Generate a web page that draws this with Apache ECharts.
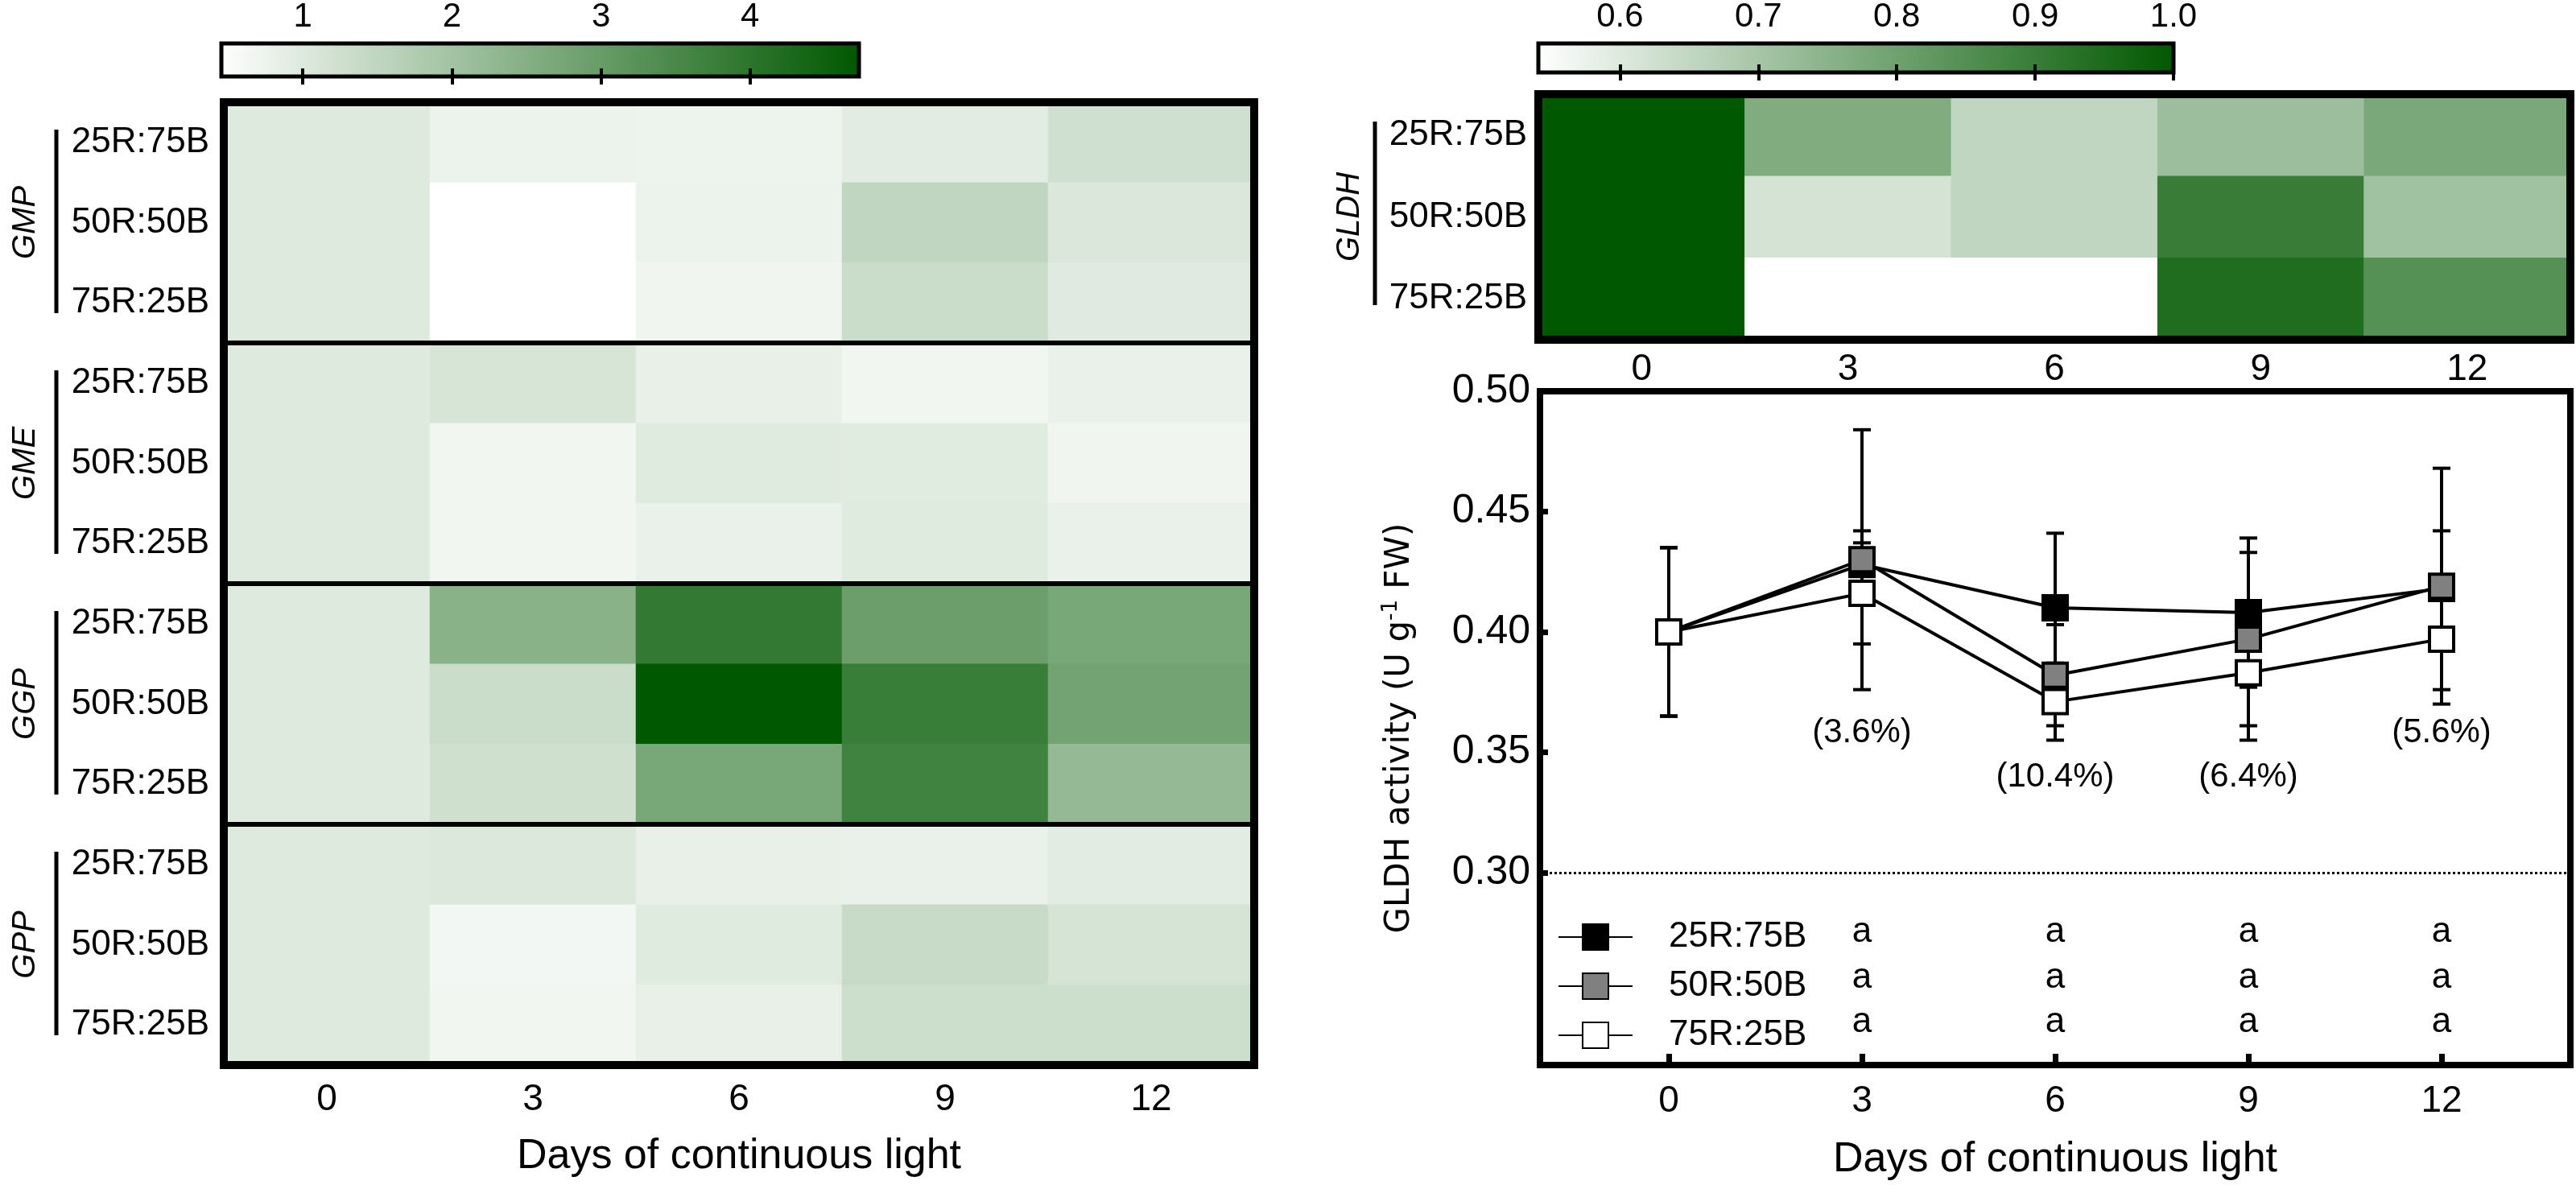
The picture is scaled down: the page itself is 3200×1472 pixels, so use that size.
<!DOCTYPE html>
<html lang="en">
<head>
<meta charset="UTF-8" />
<title>GMP / GME / GGP / GPP and GLDH under continuous light</title>
<script src="https://cdn.jsdelivr.net/npm/echarts@6/dist/echarts.min.js"></script>
<style>
  html, body { margin: 0; padding: 0; background: #fff; }
  #chart { width: 3200px; height: 1472px; }
</style>
</head>
<body>
<div id="chart"></div>
<script>
// ---- data ----
const days = ['0', '3', '6', '9', '12'];
const dayValues = [0, 3, 6, 9, 12];
const treatments = ['25R:75B', '50R:50B', '75R:25B'];
const genes = ['GMP', 'GME', 'GGP', 'GPP'];

// relative expression, rows = treatments, cols = days
const gmp = [[1.00, 0.77, 0.76, 0.94, 1.24], [1.00, 0.45, 0.78, 1.51, 1.07], [1.00, 0.45, 0.70, 1.34, 0.98]];
const gme = [[1.00, 1.12, 0.84, 0.69, 0.80], [1.00, 0.69, 0.97, 0.95, 0.70], [1.00, 0.69, 0.80, 0.97, 0.80]];
const ggp = [[1.00, 2.43, 3.88, 2.93, 2.72], [1.00, 1.34, 4.73, 3.79, 2.80], [1.00, 1.26, 2.72, 3.66, 2.25]];
const gpp = [[1.00, 1.04, 0.84, 0.80, 0.94], [1.00, 0.65, 0.97, 1.37, 1.14], [1.00, 0.69, 0.84, 1.31, 1.31]];
const gldhExpr = [[1.00, 0.77, 0.654, 0.72, 0.78], [1.00, 0.619, 0.654, 0.90, 0.71], [1.00, 0.541, 0.541, 0.943, 0.847]];

const leftRange = [0.454, 4.73];
const leftTicks = [1, 2, 3, 4];
const rightRange = [0.541, 1.0];
const rightTicks = [0.6, 0.7, 0.8, 0.9, 1.0];

// GLDH activity (U g-1 FW), mean and SD
const act25 = [0.400, 0.428, 0.410, 0.408, 0.418];
const sd25 = [0.035, 0.014, 0.031, 0.031, 0.024];
const act50 = [0.400, 0.430, 0.382, 0.397, 0.419];
const sd50 = [0.035, 0.054, 0.021, 0.036, 0.049];
const act75 = [0.400, 0.416, 0.371, 0.383, 0.397];
const sd75 = [0.035, 0.021, 0.016, 0.028, 0.021];

const pctDays = [3, 6, 9, 12];
const pctText = ['(3.6%)', '(10.4%)', '(6.4%)', '(5.6%)'];
const pctLevel = [0.358, 0.3397, 0.3397, 0.358];
const letterDays = [3, 6, 9, 12];
const letters = [['a', 'a', 'a', 'a'], ['a', 'a', 'a', 'a'], ['a', 'a', 'a', 'a']];
const letterLevel = [0.2753, 0.2563, 0.2377];
const activityTicks = [0.30, 0.35, 0.40, 0.45, 0.50];

// ---- layout ----
const FONT = '"Liberation Sans", Arial, sans-serif';
const hm = { left: 278, top: 127, width: 1280, groupH: 299 };
const gl = { left: 1911, top: 117, width: 1282, height: 305 };
const ln = { left: 1913, top: 486, width: 1280, height: 837 };
const GREEN = '#005800';

const chart = echarts.init(document.getElementById('chart'));

const gradient = {
  type: 'linear', x: 0, y: 0, x2: 1, y2: 0,
  colorStops: [{ offset: 0, color: '#ffffff' }, { offset: 1, color: GREEN }]
};

function toCells(mat) {
  const out = [];
  mat.forEach((row, r) => row.forEach((v, c) => out.push([c, r, v])));
  return out;
}

const grids = [];
const xAxes = [];
const yAxes = [];
const series = [];
const geneData = [gmp, gme, ggp, gpp];

genes.forEach((g, i) => {
  grids.push({
    left: hm.left, top: hm.top + i * hm.groupH, width: hm.width, height: hm.groupH,
    show: true, borderColor: '#000', borderWidth: 6, backgroundColor: 'transparent', z: 10
  });
  const last = i === genes.length - 1;
  xAxes.push({
    type: 'category', gridIndex: i, data: days,
    axisLine: { show: false }, axisTick: { show: false },
    axisLabel: { show: last, fontSize: 46, color: '#000', margin: 20, fontFamily: FONT },
    name: last ? 'Days of continuous light' : '', nameLocation: 'middle', nameGap: 88,
    nameTextStyle: { fontSize: 52, color: '#000', fontFamily: FONT }
  });
  yAxes.push({
    type: 'category', gridIndex: i, data: treatments, inverse: true,
    axisLine: { show: false }, axisTick: { show: false },
    axisLabel: { fontSize: 44, color: '#000', margin: 18, fontFamily: FONT },
    name: g, nameLocation: 'middle', nameRotate: 90, nameGap: 226,
    nameTextStyle: { fontSize: 40, fontStyle: 'italic', color: '#000', fontFamily: FONT }
  });
  series.push({
    type: 'heatmap', xAxisIndex: i, yAxisIndex: i, data: toCells(geneData[i]),
    itemStyle: { borderWidth: 0 }, emphasis: { disabled: true }
  });
});

// GLDH expression heatmap (grid 4)
grids.push({
  left: gl.left, top: gl.top, width: gl.width, height: gl.height,
  show: true, borderColor: '#000', borderWidth: 10, backgroundColor: 'transparent', z: 10
});
xAxes.push({
  type: 'category', gridIndex: 4, data: days,
  axisLine: { show: false }, axisTick: { show: false },
  axisLabel: { fontSize: 46, color: '#000', margin: 14, fontFamily: FONT }
});
yAxes.push({
  type: 'category', gridIndex: 4, data: treatments, inverse: true,
  axisLine: { show: false }, axisTick: { show: false },
  axisLabel: { fontSize: 44, color: '#000', margin: 14, fontFamily: FONT },
  name: 'GLDH', nameLocation: 'middle', nameRotate: 90, nameGap: 214,
  nameTextStyle: { fontSize: 40, fontStyle: 'italic', color: '#000', fontFamily: FONT }
});
series.push({
  type: 'heatmap', xAxisIndex: 4, yAxisIndex: 4, data: toCells(gldhExpr),
  itemStyle: { borderWidth: 0 }, emphasis: { disabled: true }
});

// GLDH activity line chart (grid 5)
grids.push({
  left: ln.left, top: ln.top, width: ln.width, height: ln.height,
  show: true, borderColor: '#000', borderWidth: 8, backgroundColor: 'transparent', z: 0
});
xAxes.push({
  type: 'value', gridIndex: 5, min: -2, max: 14,
  axisLine: { show: false, onZero: false }, splitLine: { show: false },
  axisTick: { customValues: dayValues, inside: true, length: 14, lineStyle: { width: 7, color: '#000' } },
  axisLabel: { customValues: dayValues, fontSize: 46, color: '#000', margin: 22, fontFamily: FONT },
  name: 'Days of continuous light', nameLocation: 'middle', nameGap: 92,
  nameTextStyle: { fontSize: 52, color: '#000', fontFamily: FONT }
});
yAxes.push({
  type: 'value', gridIndex: 5, min: 0.22, max: 0.50,
  axisLine: { show: false, onZero: false }, splitLine: { show: false },
  axisTick: { customValues: activityTicks, inside: true, length: 10, lineStyle: { width: 7, color: '#000' } },
  axisLabel: {
    customValues: activityTicks, fontSize: 50, color: '#000', margin: 12, fontFamily: FONT,
    formatter: v => v.toFixed(2)
  },
  name: 'GLDH activity (U g{sup|-1} FW)', nameLocation: 'middle', nameRotate: 90, nameGap: 150,
  nameTextStyle: {
    fontSize: 42, color: '#000', fontFamily: '"DejaVu Sans", sans-serif',
    rich: { sup: { fontSize: 26, padding: [0, 0, 22, 0], fontFamily: '"DejaVu Sans", sans-serif', color: '#000' } }
  }
});

// colour bars (grids 6, 7)
function colorBar(gridIdx, left, top, width, range, ticks, fmt) {
  grids.push({
    left: left, top: top, width: width, height: 43,
    show: true, borderColor: '#000', borderWidth: 5, backgroundColor: gradient
  });
  xAxes.push({
    type: 'value', gridIndex: gridIdx, position: 'top', min: range[0], max: range[1], z: 5,
    axisLine: { show: false }, splitLine: { show: false },
    axisTick: { customValues: ticks, inside: true, length: 10, lineStyle: { width: 4, color: '#000' } },
    axisLabel: { customValues: ticks, fontSize: 42, color: '#000', margin: 12, fontFamily: FONT, formatter: fmt }
  });
  xAxes.push({
    type: 'value', gridIndex: gridIdx, position: 'bottom', min: range[0], max: range[1], z: 5,
    axisLine: { show: false }, splitLine: { show: false },
    axisTick: { customValues: ticks, inside: true, length: 10, lineStyle: { width: 4, color: '#000' } },
    axisLabel: { show: false }
  });
  yAxes.push({ type: 'value', gridIndex: gridIdx, show: false, min: 0, max: 1 });
}
colorBar(6, 275, 52, 792, leftRange, leftTicks, v => String(Math.round(v)));
colorBar(7, 1911, 47, 789, rightRange, rightTicks, v => v.toFixed(1));

// line chart series
const lnX = 5, lnY = 5;
const groupsAct = [
  { name: treatments[0], mean: act25, sd: sd25, fill: '#000000' },
  { name: treatments[1], mean: act50, sd: sd50, fill: '#808080' },
  { name: treatments[2], mean: act75, sd: sd75, fill: '#ffffff' }
];

groupsAct.forEach(g => {
  series.push({
    type: 'custom', xAxisIndex: lnX, yAxisIndex: lnY, z: 1, silent: true,
    data: dayValues.map((d, k) => [d, g.mean[k], g.sd[k]]),
    renderItem: (params, api) => {
      const x = api.value(0), m = api.value(1), s = api.value(2);
      const hi = api.coord([x, m + s]);
      const lo = api.coord([x, m - s]);
      const cw = 11;
      const st = { stroke: '#000', lineWidth: 4 };
      return {
        type: 'group',
        children: [
          { type: 'line', shape: { x1: hi[0], y1: hi[1], x2: lo[0], y2: lo[1] }, style: st },
          { type: 'line', shape: { x1: hi[0] - cw, y1: hi[1], x2: hi[0] + cw, y2: hi[1] }, style: st },
          { type: 'line', shape: { x1: lo[0] - cw, y1: lo[1], x2: lo[0] + cw, y2: lo[1] }, style: st }
        ]
      };
    }
  });
});

groupsAct.forEach((g, i) => {
  const s = {
    name: g.name, type: 'line', xAxisIndex: lnX, yAxisIndex: lnY, z: 3,
    data: dayValues.map((d, k) => [d, g.mean[k]]),
    symbol: 'rect', symbolSize: 30, showSymbol: true,
    lineStyle: { color: '#000', width: 4 },
    itemStyle: { color: g.fill, borderColor: '#000', borderWidth: 4 },
    emphasis: { disabled: true }
  };
  if (i === 0) {
    s.markLine = {
      silent: true, symbol: ['none', 'none'], label: { show: false },
      lineStyle: { type: 'dotted', color: '#000', width: 3 },
      data: [{ yAxis: 0.30 }]
    };
  }
  series.push(s);
});

// percentage labels
series.push({
  type: 'scatter', xAxisIndex: lnX, yAxisIndex: lnY, symbolSize: 0, silent: true,
  itemStyle: { opacity: 1 },
  data: pctDays.map((d, k) => [d, pctLevel[k], pctText[k]]),
  label: { show: true, position: 'inside', formatter: p => p.data[2], fontSize: 42, color: '#000',
    textBorderWidth: 0, opacity: 1, fontFamily: FONT }
});

// significance letters
letters.forEach((row, r) => {
  series.push({
    type: 'scatter', xAxisIndex: lnX, yAxisIndex: lnY, symbolSize: 0, silent: true,
    itemStyle: { opacity: 1 },
    data: letterDays.map((d, k) => [d, letterLevel[r], row[k]]),
    label: { show: true, position: 'inside', formatter: p => p.data[2], fontSize: 44, color: '#000',
      textBorderWidth: 0, opacity: 1, fontFamily: FONT }
  });
});

// decorations: outer frame of stacked heatmap and group brackets
const graphics = [{
  type: 'rect', z: 100, silent: true,
  shape: { x: hm.left, y: hm.top, width: hm.width, height: hm.groupH * genes.length },
  style: { fill: 'none', stroke: '#000', lineWidth: 10 }
}];
genes.forEach((g, i) => {
  const t = hm.top + i * hm.groupH;
  graphics.push({
    type: 'line', silent: true,
    shape: { x1: 70, y1: t + 34, x2: 70, y2: t + 262 },
    style: { stroke: '#000', lineWidth: 5 }
  });
});
graphics.push({
  type: 'line', silent: true,
  shape: { x1: 1708, y1: gl.top + 34, x2: 1708, y2: gl.top + 262 },
  style: { stroke: '#000', lineWidth: 5 }
});

const option = {
  animation: false,
  backgroundColor: '#fff',
  textStyle: { fontFamily: FONT },
  grid: grids,
  xAxis: xAxes,
  yAxis: yAxes,
  visualMap: [
    { type: 'continuous', show: false, seriesIndex: [0, 1, 2, 3], min: leftRange[0], max: leftRange[1],
      inRange: { color: ['#ffffff', GREEN] } },
    { type: 'continuous', show: false, seriesIndex: [4], min: rightRange[0], max: rightRange[1],
      inRange: { color: ['#ffffff', GREEN] } }
  ],
  legend: {
    data: treatments, orient: 'vertical', left: 1930, top: 1137,
    itemWidth: 92, itemHeight: 40, itemGap: 17,
    textStyle: { fontSize: 44, color: '#000', fontFamily: FONT, padding: [0, 0, 0, 40] }
  },
  graphic: graphics,
  series: series
};

chart.setOption(option);
</script>
</body>
</html>
